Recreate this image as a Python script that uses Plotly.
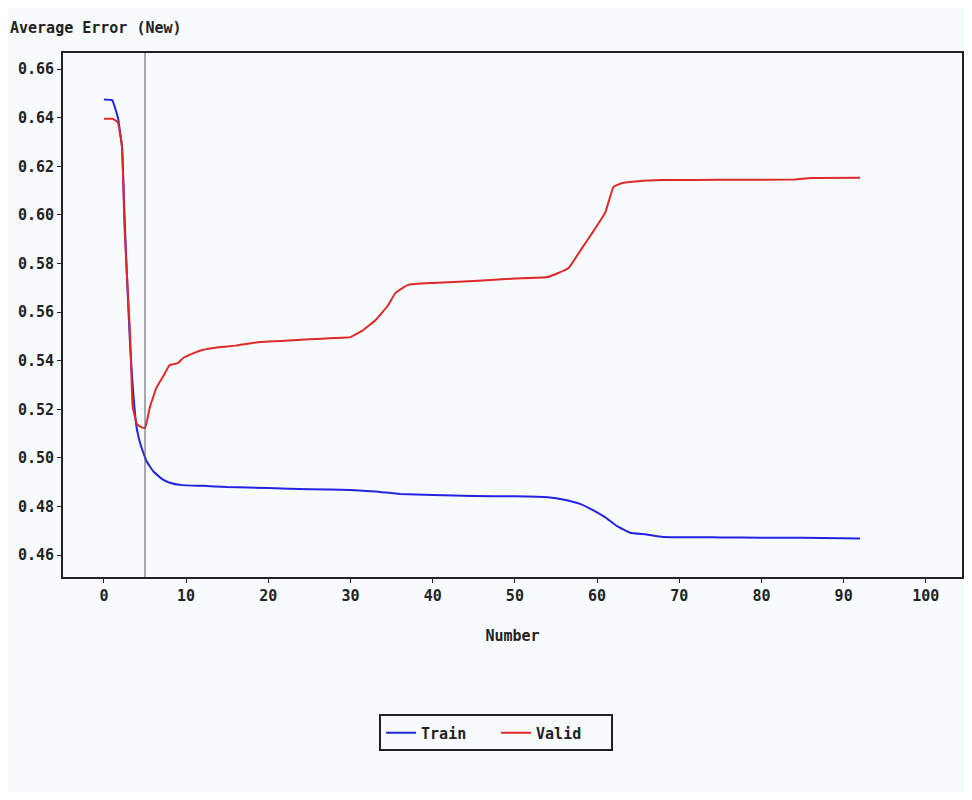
import plotly.graph_objects as go

# Train (blue) curve
train_x = [0, 1, 1.7, 2.2, 2.5, 2.8, 3.2, 3.6, 4.0, 4.5, 5.2, 6.0, 7.0, 8.0, 9.5, 12, 15, 20, 25, 30, 33, 36, 40, 45, 50, 54, 56, 58, 59.5, 61, 62.5, 64, 66, 68, 75, 80, 85, 90, 92]
train_y = [0.6475, 0.6472, 0.640, 0.628, 0.600, 0.575, 0.545, 0.525, 0.512, 0.505, 0.4985, 0.4945, 0.4915, 0.4898, 0.4888, 0.4885, 0.4880, 0.4876, 0.4871, 0.4868, 0.4862, 0.4852, 0.4847, 0.4843, 0.4842, 0.4838, 0.4828, 0.4810, 0.4785, 0.4755, 0.4718, 0.4692, 0.4685, 0.4675, 0.4673, 0.4672, 0.4671, 0.4669, 0.4668]

# Valid (red) curve
valid_x = [0, 1.1, 1.7, 2.2, 2.5, 2.8, 3.2, 3.5, 4.0, 4.5, 5.0, 5.6, 6.4, 7.2, 8.0, 9.0, 9.6, 11, 12, 14, 16, 19, 22, 25, 28, 30, 31.5, 33, 34.5, 35.5, 37, 40, 45, 50, 54, 56.5, 58, 59.5, 61, 62, 63, 65, 68, 75, 84, 86, 92]
valid_y = [0.6395, 0.6395, 0.638, 0.628, 0.595, 0.575, 0.550, 0.521, 0.514, 0.5128, 0.5123, 0.521, 0.529, 0.5335, 0.5382, 0.539, 0.541, 0.5432, 0.5444, 0.5455, 0.5462, 0.5477, 0.5482, 0.5488, 0.5493, 0.5497, 0.5525, 0.5565, 0.5625, 0.5680, 0.5712, 0.5720, 0.5728, 0.5738, 0.5744, 0.5780, 0.5855, 0.5930, 0.6010, 0.6115, 0.6130, 0.6138, 0.6143, 0.6144, 0.6146, 0.6152, 0.6153]

x_ticks = [0, 10, 20, 30, 40, 50, 60, 70, 80, 90, 100]
y_ticks = [0.46, 0.48, 0.50, 0.52, 0.54, 0.56, 0.58, 0.60, 0.62, 0.64, 0.66]
y_tick_labels = ["0.46", "0.48", "0.50", "0.52", "0.54", "0.56", "0.58", "0.60", "0.62", "0.64", "0.66"]
marker_x = 5  # vertical reference line (selected iteration)

FONT = dict(family="DejaVu Sans Mono", size=15, color="#222222", weight="bold")
BG = "#F7FBFE"

fig = go.Figure()
fig.add_trace(go.Scatter(x=train_x, y=train_y, mode="lines", name="Train",
                         line=dict(color="#2424E0", width=2, shape="spline", smoothing=0.3)))
fig.add_trace(go.Scatter(x=valid_x, y=valid_y, mode="lines", name="Valid",
                         line=dict(color="#E02828", width=2, shape="spline", smoothing=0.3)))

fig.add_vline(x=marker_x, line=dict(color="#555555", width=1))

W, H = 956, 784
fig.update_layout(
    width=W, height=H,
    paper_bgcolor=BG, plot_bgcolor=BG,
    margin=dict(l=55, r=0, t=45, b=215),
    font=FONT,
    title=dict(text="Average Error (New)", x=2 / W, xanchor="left", xref="container",
               y=1 - 20 / H, yanchor="middle", yref="container", font=FONT),
    xaxis=dict(range=[-4.98, 104.4], tickvals=x_ticks, ticks="outside", ticklen=4, tickwidth=1,
               tickcolor="#222", showgrid=False, zeroline=False, showline=True, linecolor="#222",
               linewidth=2, mirror=True, title=dict(text="Number", standoff=26, font=FONT)),
    yaxis=dict(range=[0.451, 0.6666], tickvals=y_ticks, ticktext=y_tick_labels, ticks="outside",
               ticklen=4, tickwidth=1, tickcolor="#222", showgrid=False, zeroline=False,
               showline=True, linecolor="#222", linewidth=2, mirror=True),
    legend=dict(orientation="h", x=0.4817, xanchor="center", y=-0.2977, yanchor="middle",
                bgcolor=BG, bordercolor="#222", borderwidth=2, font=FONT,
                itemwidth=30, entrywidth=70),
    showlegend=True,
)

fig.write_html("out.html")
